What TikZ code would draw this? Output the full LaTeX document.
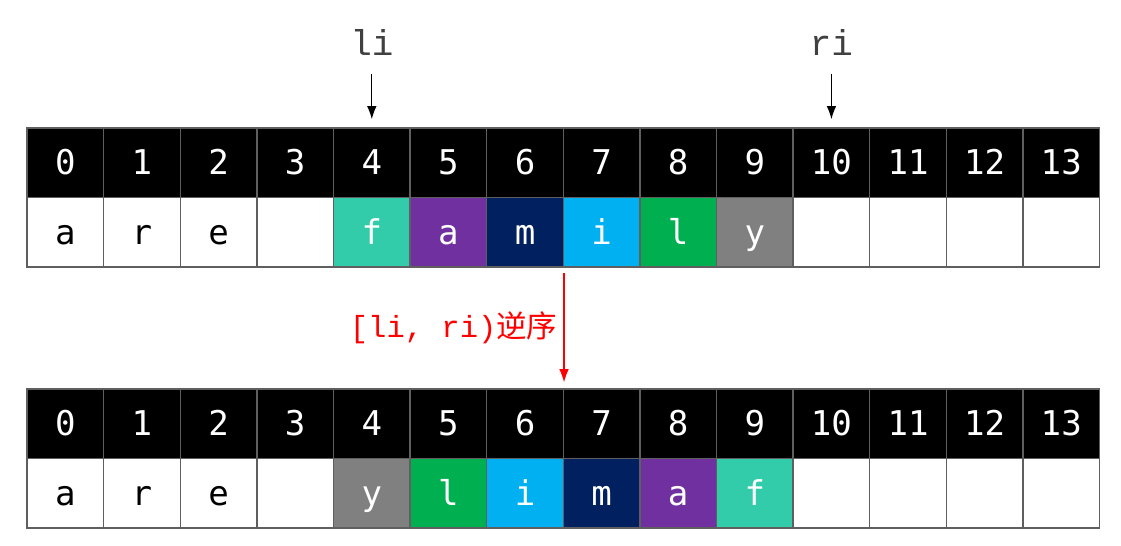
\documentclass[tikz,border=0pt]{standalone}
\usepackage{fontspec}
\setmonofont{DejaVu Sans Mono}
\newfontfamily\ptrfont{Liberation Mono}
\newfontfamily\cjk{Noto Sans CJK SC}
\usetikzlibrary{arrows.meta, positioning}
\definecolor{cellline}{RGB}{95,95,95}
\definecolor{ptrgray}{RGB}{64,64,64}
\definecolor{cturq}{RGB}{51,204,170}
\definecolor{cpurple}{RGB}{112,48,160}
\definecolor{cnavy}{RGB}{0,32,96}
\definecolor{csky}{RGB}{0,176,240}
\definecolor{cgreen}{RGB}{0,176,80}
\definecolor{cgray}{RGB}{128,128,128}

\begin{document}
\begin{tikzpicture}[
  cell/.style={draw=cellline, line width=0.8pt, minimum width=1.5cm, minimum height=1.36cm,
    inner sep=0pt, text height=1.3em, text depth=0pt, font=\ttfamily\fontsize{19}{19}\selectfont},
  idxcell/.style={cell, fill=black, text=white},
  ptrlabel/.style={text=ptrgray, font=\ptrfont\fontsize{20}{20}\selectfont},
  ptrarrow/.style={line width=0.7pt, -{Latex[length=2.6mm, width=1.9mm]}, shorten <=0.22cm, shorten >=0.16cm},
  revarrow/.style={red, line width=0.7pt, -{Latex[length=2.6mm, width=1.9mm]}, shorten <=0.1cm, shorten >=0.12cm},
  revlabel/.style={red, font=\ptrfont\fontsize{17}{17}\selectfont}
]
\useasboundingbox (0,0) rectangle (21.95,10.69);
%top array
\foreach \i in {0,...,13}
  \node[idxcell] (idx\i) at (1.28+1.5*\i,7.50) {\i};
\foreach \c/\f/\t [count=\i from 0] in {a/white/black, r/white/black, e/white/black, {}/white/black,
    f/cturq/white, a/cpurple/white, m/cnavy/white, i/csky/white, l/cgreen/white, y/cgray/white,
    {}/white/black, {}/white/black, {}/white/black, {}/white/black}
  \node[cell, fill=\f, text=\t] (ch\i) at (1.28+1.5*\i,6.14) {\c};
%pointers
\node[ptrlabel, anchor=base] (li) at ([yshift=1.4cm]idx4.north) {li};
\node[ptrlabel, anchor=base] (ri) at ([yshift=1.4cm]idx10.north) {ri};
\draw[ptrarrow] (li.south) -- (idx4.north);
\draw[ptrarrow] (ri.south) -- (idx10.north);
%bottom array
\foreach \i in {0,...,13}
  \node[idxcell] (nidx\i) at (1.28+1.5*\i,2.39) {\i};
\foreach \c/\f/\t [count=\i from 0] in {a/white/black, r/white/black, e/white/black, {}/white/black,
    y/cgray/white, l/cgreen/white, i/csky/white, m/cnavy/white, a/cpurple/white, f/cturq/white,
    {}/white/black, {}/white/black, {}/white/black, {}/white/black}
  \node[cell, fill=\f, text=\t] (nch\i) at (1.28+1.5*\i,1.03) {\c};
%arrow between the two arrays
\draw[revarrow] (ch6.south east) -- node[left, revlabel] (rev) {[li, ri){\cjk 逆序}} (nidx6.north east);
\end{tikzpicture}
\end{document}
